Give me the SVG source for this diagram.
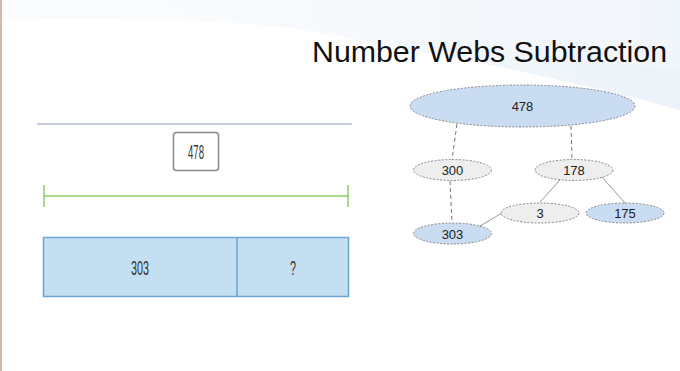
<svg xmlns="http://www.w3.org/2000/svg" width="680" height="371" viewBox="0 0 680 371">
<defs>
<linearGradient id="sw" x1="0" y1="0" x2="1" y2="0">
<stop offset="0" stop-color="#f4f7fb" stop-opacity="0"/>
<stop offset="0.6" stop-color="#edf3f9"/>
<stop offset="1" stop-color="#e3edf7"/>
</linearGradient>
</defs>
<style>
.nar{font-family:"Liberation Sans",Arial,sans-serif;fill:#333;text-anchor:middle}
.web{font-family:"Liberation Sans",Arial,sans-serif;font-size:13px;fill:#222;text-anchor:middle}
.dash{stroke:#777;stroke-width:1;stroke-dasharray:4 3;fill:none}
.sol{stroke:#999;stroke-width:1;fill:none}
.blue{fill:#c9dcf2;stroke:#888;stroke-width:1;stroke-dasharray:2 1.5}
.grey{fill:#eeeeee;stroke:#888;stroke-width:1;stroke-dasharray:2 1.5}
</style>
<rect width="680" height="371" fill="#ffffff"/>
<path d="M120,0 C300,30 500,60 680,110 L680,0 Z" fill="url(#sw)" opacity="0.7"/>
<path d="M0,20 C200,10 420,40 680,70 L680,0 L0,0 Z" fill="#f5f8fb" opacity="0.6"/>
<line x1="1" y1="0" x2="1" y2="371" stroke="#d8b8a8" stroke-width="2"/>
<text x="312" y="62" font-family="'Liberation Sans',Arial,sans-serif" font-size="30" fill="#111" textLength="355" lengthAdjust="spacingAndGlyphs">Number Webs Subtraction</text>

<g id="bar-model">
<line x1="37" y1="124" x2="352" y2="124" stroke="#b4bcd4" stroke-width="1.5"/>
<g id="total-box">
<rect x="173.5" y="132.5" width="45" height="38" rx="3" fill="#fff" stroke="#888" stroke-width="1.5"/>
<text class="nar" x="196" y="158.5" font-size="19.5" textLength="16" lengthAdjust="spacingAndGlyphs">478</text>
</g>
<g id="green-line" stroke="#8ccf6a" stroke-width="1.5">
<line x1="44" y1="196" x2="348" y2="196"/>
<line x1="44" y1="185" x2="44" y2="207"/>
<line x1="348" y1="185" x2="348" y2="207"/>
</g>
<g id="bar">
<rect x="43.5" y="237.5" width="305" height="59" fill="#c5dff2" stroke="#6aa3d6" stroke-width="1.5"/>
<line x1="237" y1="237.5" x2="237" y2="296.5" stroke="#6aa3d6" stroke-width="1.5"/>
<text class="nar" x="140" y="275" font-size="19.5" textLength="18" lengthAdjust="spacingAndGlyphs">303</text>
<text class="nar" x="293" y="275" font-size="19.5" textLength="6" lengthAdjust="spacingAndGlyphs">?</text>
</g>
</g>

<g id="connectors">
<line class="dash" x1="457" y1="124" x2="452" y2="160"/>
<line class="dash" x1="571" y1="126" x2="572" y2="160"/>
<line class="dash" x1="450" y1="181" x2="452" y2="223"/>
<line class="sol" x1="560" y1="180" x2="540" y2="202"/>
<line class="sol" x1="602" y1="177" x2="625" y2="203"/>
<line class="sol" x1="502" y1="213" x2="480" y2="226"/>
</g>

<g id="n478"><ellipse class="blue" cx="522.5" cy="106" rx="112.5" ry="21"/><text class="web" x="522.5" y="111">478</text></g>
<g id="n300"><ellipse class="grey" cx="452.5" cy="170" rx="39" ry="10.5"/><text class="web" x="452.5" y="175">300</text></g>
<g id="n178"><ellipse class="grey" cx="574" cy="170" rx="39" ry="10.5"/><text class="web" x="574" y="175">178</text></g>
<g id="n3"><ellipse class="grey" cx="540" cy="213" rx="39" ry="10"/><text class="web" x="540" y="218">3</text></g>
<g id="n175"><ellipse class="blue" cx="625" cy="213" rx="39" ry="10"/><text class="web" x="625" y="218">175</text></g>
<g id="n303"><ellipse class="blue" cx="452.5" cy="233.5" rx="39" ry="10.5"/><text class="web" x="452.5" y="238.5">303</text></g>
</svg>
